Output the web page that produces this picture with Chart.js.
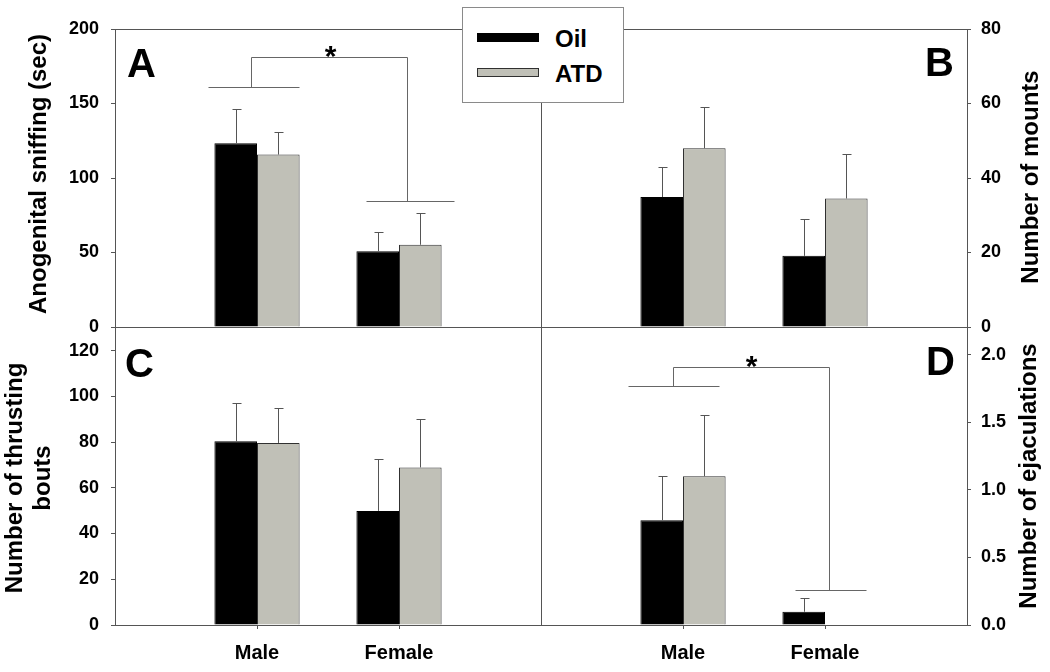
<!DOCTYPE html>
<html>
<head>
<meta charset="utf-8">
<script src="https://cdn.jsdelivr.net/npm/chart.js@4.4.1/dist/chart.umd.min.js"></script>
<style>
  html, body { margin: 0; padding: 0; background: #fff; }
  #wrap { position: relative; width: 1050px; height: 672px; overflow: hidden; }
  #wrap canvas { position: absolute; left: 0; top: 0; }
  #legend {
    position: absolute; left: 462px; top: 7px; width: 160px; height: 94px;
    border: 1px solid #8a8a8a; background: #fff; z-index: 5;
    font: bold 24px Arial, "Liberation Sans", sans-serif; color: #000;
  }
  #legend .sw { position: absolute; left: 14px; width: 62px; height: 9px; box-sizing: border-box; }
  #legend .lb { position: absolute; left: 92px; line-height: 24px; }
</style>
</head>
<body>
<div id="wrap">
  <canvas id="cA" width="1050" height="672"></canvas>
  <canvas id="cB" width="1050" height="672"></canvas>
  <canvas id="cC" width="1050" height="672"></canvas>
  <canvas id="cD" width="1050" height="672"></canvas>
  <div id="legend"></div>
</div>
<script>
const groups = ['Male', 'Female'];
const seriesNames = ['Oil', 'ATD'];
const seriesColors = ['#000000', '#c0c0b7'];
const seriesBorders = ['#000000', '#303030'];

// A: anogenital sniffing (sec), mean and upper SEM
const sniffOil = [123.4, 50.9];
const sniffAtd = [115.7, 55.2];
const sniffOilErr = [23.0, 12.6];
const sniffAtdErr = [15.1, 21.1];

// B: number of mounts
const mountsOil = [34.9, 19.1];
const mountsAtd = [48.0, 34.5];
const mountsOilErr = [8.1, 9.8];
const mountsAtdErr = [11.0, 11.9];

// C: number of thrusting bouts
const thrustOil = [80.3, 49.9];
const thrustAtd = [79.6, 68.9];
const thrustOilErr = [16.6, 22.7];
const thrustAtdErr = [15.5, 21.1];

// D: number of ejaculations
const ejacOil = [0.776, 0.098];
const ejacAtd = [1.101, 0];
const ejacOilErr = [0.327, 0.102];
const ejacAtdErr = [0.456, 0];

// significance brackets (x in group units, y in axis units)
const sniffSig = { left: [0.653, 1.297, 161.4], right: [1.767, 2.389, 84.8], legs: [0.961, 2.058], top: 181.4, star: 1.515 };
const ejacSig = { left: [0.615, 1.256, 1.769], right: [1.791, 2.291, 0.256], legs: [0.928, 2.030], top: 1.909, star: 1.479 };

const FONT = 'Arial, "Liberation Sans", sans-serif';
const AXIS = '#555555';

Chart.defaults.font.family = FONT;
Chart.defaults.font.weight = 'bold';
Chart.defaults.color = '#000';

const decor = {
  id: 'decor',
  afterDatasetsDraw(chart, args, opts) {
    const { ctx, chartArea: a, scales: { x, y } } = chart;
    ctx.save();
    ctx.lineWidth = 1;

    // error bars (upper only)
    ctx.strokeStyle = '#555';
    chart.data.datasets.forEach((ds, di) => {
      chart.getDatasetMeta(di).data.forEach((bar, i) => {
        const e = ds.err[i];
        if (!e) return;
        const px = Math.round(bar.x) + 0.5;
        const top = Math.round(y.getPixelForValue(ds.data[i].y + e)) + 0.5;
        ctx.beginPath();
        ctx.moveTo(px, bar.y);
        ctx.lineTo(px, top);
        ctx.moveTo(px - 4, top);
        ctx.lineTo(px + 5, top);
        ctx.stroke();
      });
    });

    // frame
    ctx.strokeStyle = AXIS;
    ctx.strokeRect(Math.round(a.left) + 0.5, Math.round(a.top) + 0.5, Math.round(a.width), Math.round(a.height));

    // significance bracket
    const b = opts.bracket;
    if (b) {
      const X = v => Math.round(x.getPixelForValue(v)) + 0.5;
      const Y = v => Math.round(y.getPixelForValue(v)) + 0.5;
      ctx.strokeStyle = '#666';
      ctx.beginPath();
      ctx.moveTo(X(b.left[0]), Y(b.left[2])); ctx.lineTo(X(b.left[1]), Y(b.left[2]));
      ctx.moveTo(X(b.right[0]), Y(b.right[2])); ctx.lineTo(X(b.right[1]), Y(b.right[2]));
      ctx.moveTo(X(b.legs[0]), Y(b.left[2]));
      ctx.lineTo(X(b.legs[0]), Y(b.top));
      ctx.lineTo(X(b.legs[1]), Y(b.top));
      ctx.lineTo(X(b.legs[1]), Y(b.right[2]));
      ctx.stroke();
      ctx.fillStyle = '#000';
      ctx.font = 'bold 30px ' + FONT;
      ctx.textAlign = 'center';
      ctx.textBaseline = 'alphabetic';
      ctx.fillText('*', X(b.star), Y(b.top) + 8);
    }

    // panel letter
    const L = opts.letter;
    ctx.fillStyle = '#000';
    ctx.font = 'bold 40px ' + FONT;
    ctx.textBaseline = 'alphabetic';
    ctx.textAlign = L.align;
    ctx.fillText(L.text, L.align === 'left' ? a.left + L.dx : a.right - L.dx, a.top + L.dy);

    // axis titles, reading bottom to top on both sides
    ctx.font = 'bold 24px ' + FONT;
    ctx.textAlign = 'center';
    opts.titles.forEach(t => {
      ctx.save();
      ctx.translate(t.x, t.y);
      ctx.rotate(-Math.PI / 2);
      ctx.fillText(t.text, 0, 0);
      ctx.restore();
    });
    ctx.restore();
  }
};

function makePanel(canvasId, cfg) {
  const toPts = arr => arr.map((v, i) => ({ x: i + 1, y: v }));
  const left = cfg.side === 'left';
  const top = cfg.row === 0;
  new Chart(document.getElementById(canvasId), {
    type: 'bar',
    data: {
      datasets: [
        { label: seriesNames[0], data: toPts(cfg.oil), err: cfg.oilErr,
          backgroundColor: seriesColors[0], borderColor: seriesBorders[0], borderWidth: 1 },
        { label: seriesNames[1], data: toPts(cfg.atd), err: cfg.atdErr,
          backgroundColor: seriesColors[1], borderColor: seriesBorders[1], borderWidth: 1 }
      ]
    },
    options: {
      responsive: false,
      animation: false,
      events: [],
      datasets: { bar: { categoryPercentage: 0.6, barPercentage: 1 } },
      layout: {
        padding: {
          left: left ? 65 : 541,
          right: left ? 509 : 33,
          top: top ? 29 : 327,
          bottom: top ? 345 : 7
        }
      },
      scales: {
        x: {
          type: 'linear',
          min: 0,
          max: 3,
          offset: false,
          display: !top,
          afterBuildTicks: s => { s.ticks = groups.map((g, i) => ({ value: i + 1 })); },
          afterFit: s => { if (!top) s.height = 40; },
          ticks: {
            autoSkip: false, maxRotation: 0, padding: 12,
            font: { size: 20, weight: 'bold' },
            callback: v => groups[v - 1]
          },
          grid: { offset: false, drawOnChartArea: false, tickLength: 4, color: AXIS },
          border: { display: true, color: AXIS }
        },
        y: {
          type: 'linear',
          position: cfg.side,
          min: 0,
          max: cfg.yMax,
          afterFit: s => { s.width = 50; },
          ticks: {
            stepSize: cfg.yStep,
            includeBounds: false,
            padding: left ? 12 : 10,
            font: { size: 18, weight: 'bold' },
            callback: cfg.fmt || (v => v)
          },
          grid: { drawOnChartArea: false, tickLength: 4, color: AXIS },
          border: { display: true, color: AXIS }
        }
      },
      plugins: {
        legend: { display: false },
        tooltip: { enabled: false },
        decor: { bracket: cfg.bracket, letter: cfg.letter, titles: cfg.titles }
      }
    },
    plugins: [decor]
  });
}

makePanel('cA', {
  side: 'left', row: 0, yMax: 200, yStep: 50,
  oil: sniffOil, atd: sniffAtd, oilErr: sniffOilErr, atdErr: sniffAtdErr,
  bracket: sniffSig,
  letter: { text: 'A', align: 'left', dx: 12, dy: 48 },
  titles: [{ text: 'Anogenital sniffing (sec)', x: 46, y: 174 }]
});

makePanel('cB', {
  side: 'right', row: 0, yMax: 80, yStep: 20,
  oil: mountsOil, atd: mountsAtd, oilErr: mountsOilErr, atdErr: mountsAtdErr,
  letter: { text: 'B', align: 'right', dx: 13, dy: 47 },
  titles: [{ text: 'Number of mounts', x: 1038, y: 177 }]
});

makePanel('cC', {
  side: 'left', row: 1, yMax: 130.3, yStep: 20,
  oil: thrustOil, atd: thrustAtd, oilErr: thrustOilErr, atdErr: thrustAtdErr,
  letter: { text: 'C', align: 'left', dx: 10, dy: 50 },
  titles: [{ text: 'Number of thrusting', x: 22, y: 478 }, { text: 'bouts', x: 50, y: 478 }]
});

makePanel('cD', {
  side: 'right', row: 1, yMax: 2.205, yStep: 0.5, fmt: v => v.toFixed(1),
  oil: ejacOil, atd: ejacAtd, oilErr: ejacOilErr, atdErr: ejacAtdErr,
  bracket: ejacSig,
  letter: { text: 'D', align: 'right', dx: 12, dy: 48 },
  titles: [{ text: 'Number of ejaculations', x: 1036, y: 476 }]
});

// legend box
const legend = document.getElementById('legend');
seriesNames.forEach((name, i) => {
  const sw = document.createElement('div');
  sw.className = 'sw';
  sw.style.top = (i === 0 ? 25 : 60) + 'px';
  sw.style.background = seriesColors[i];
  sw.style.border = '1px solid ' + seriesBorders[i];
  legend.appendChild(sw);
  const lb = document.createElement('div');
  lb.className = 'lb';
  lb.style.top = (i === 0 ? 19 : 54) + 'px';
  lb.textContent = name;
  legend.appendChild(lb);
});
</script>
</body>
</html>
